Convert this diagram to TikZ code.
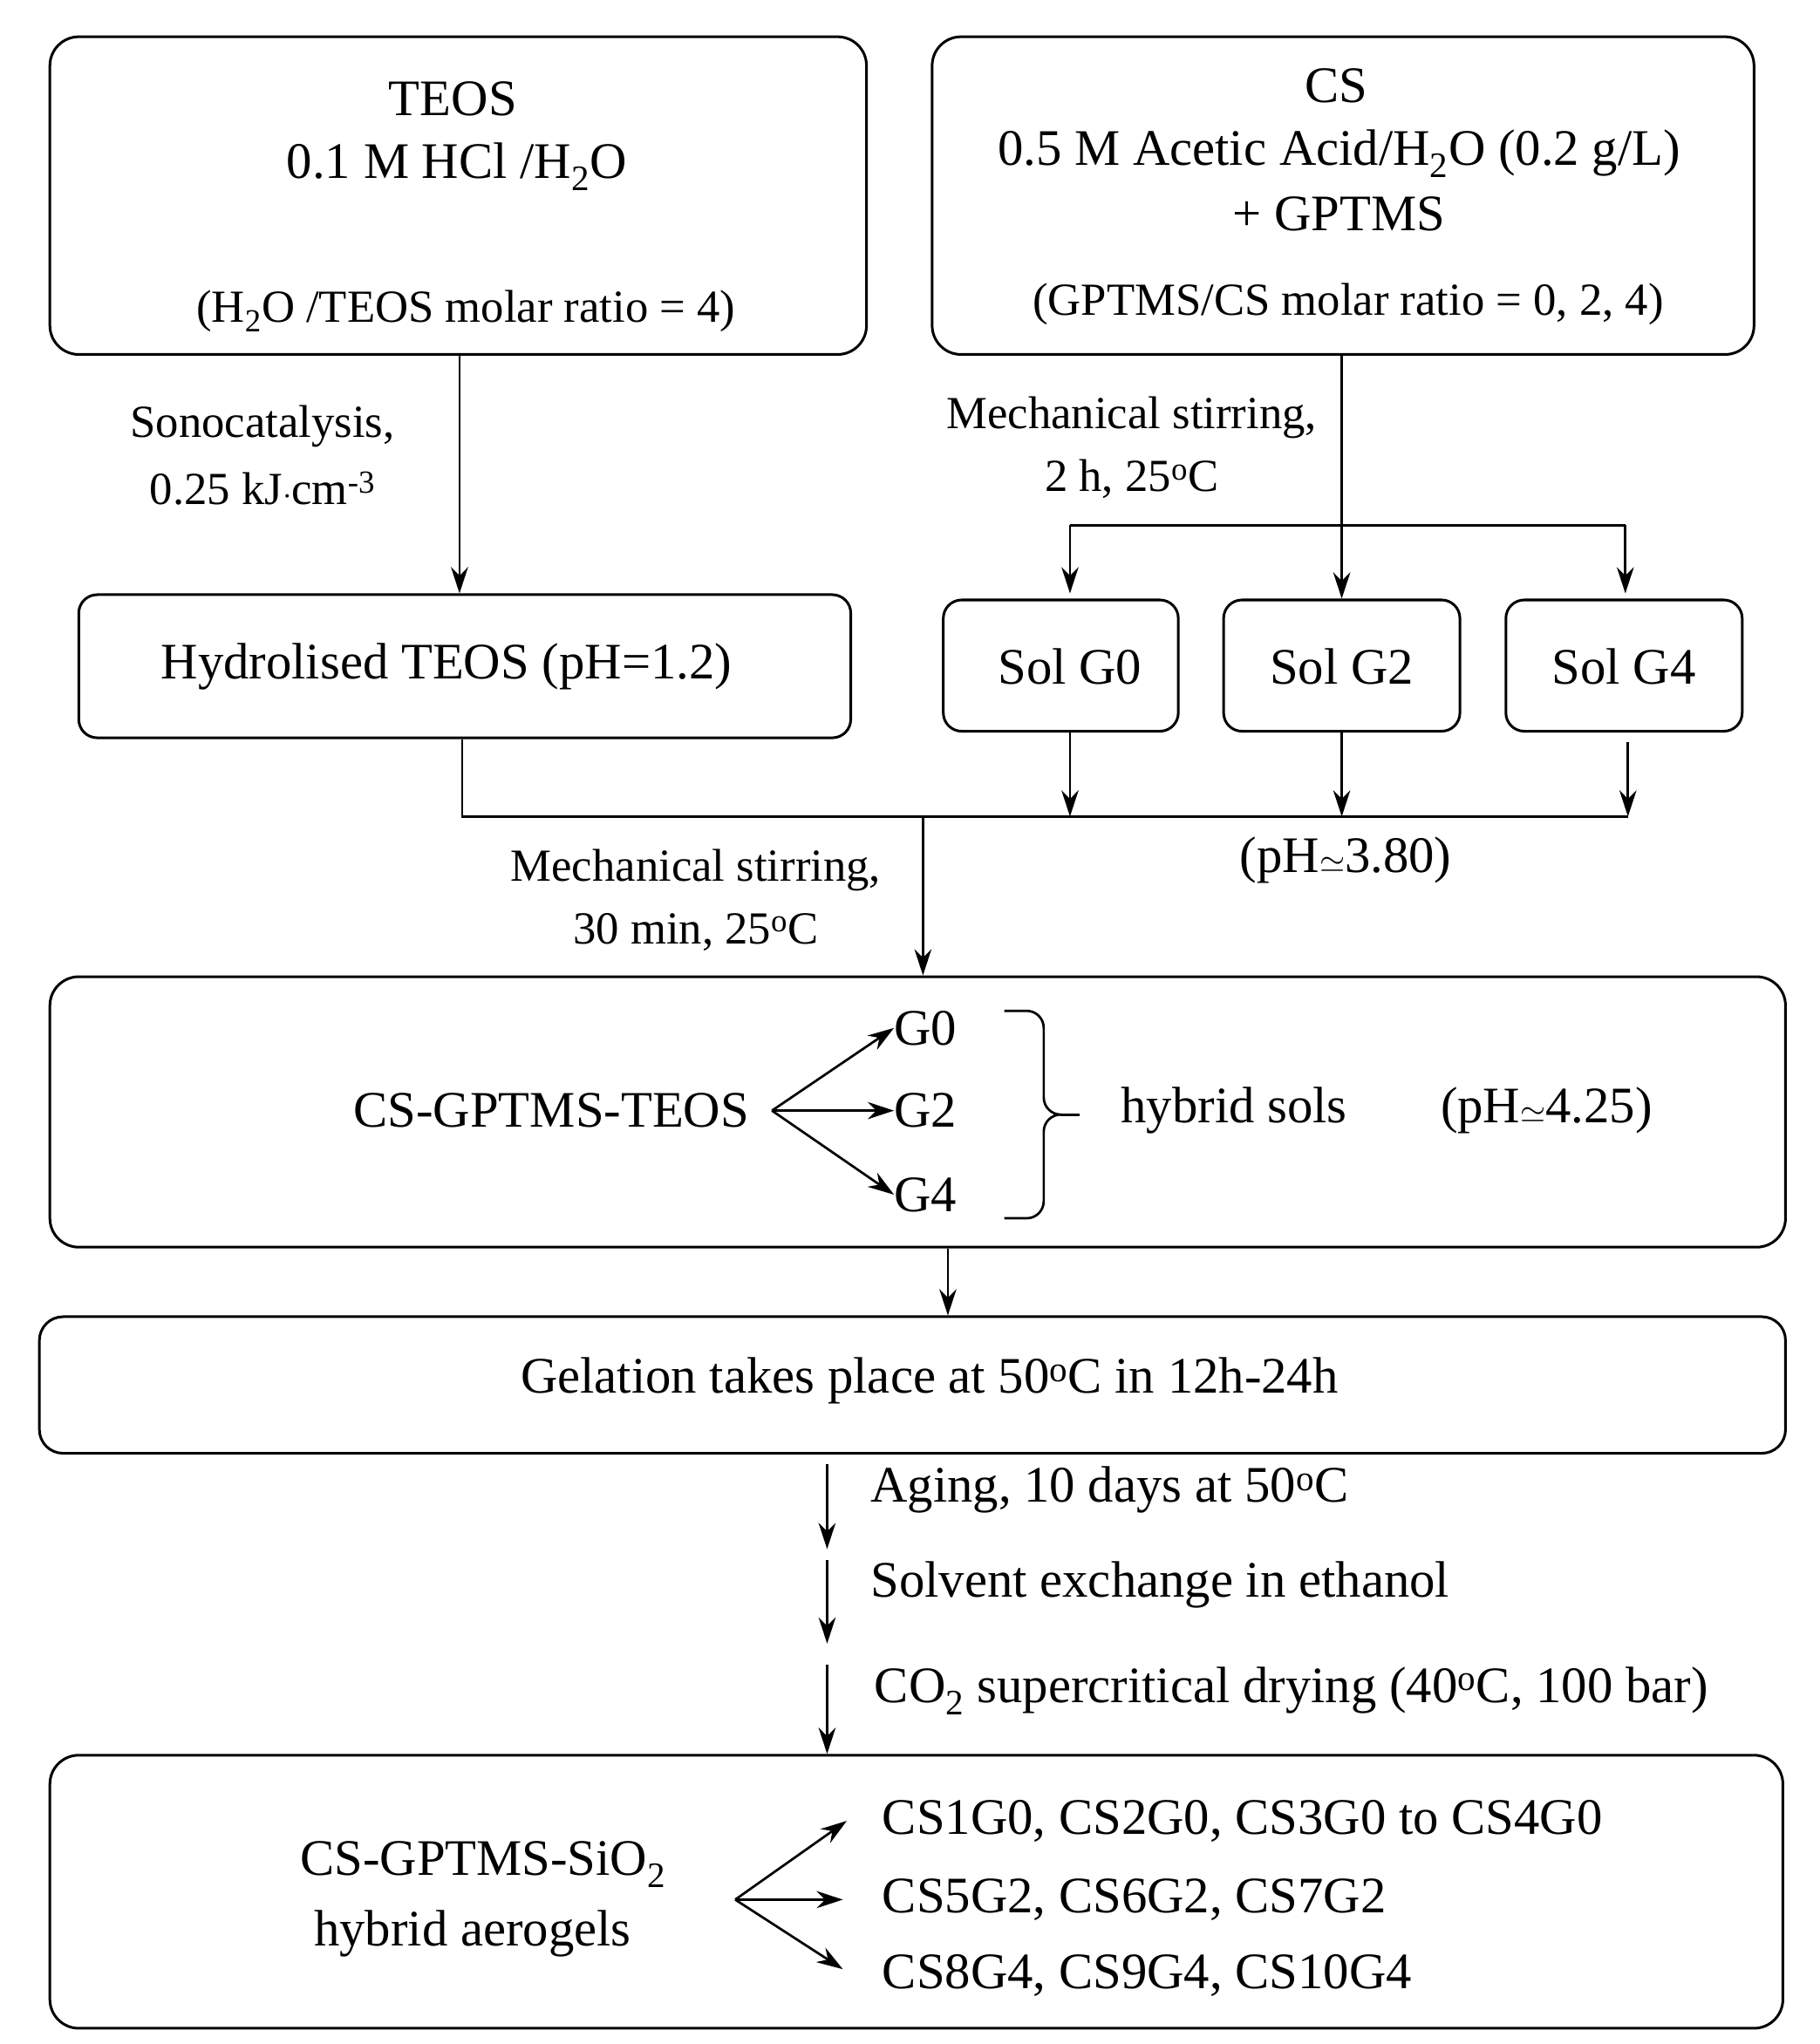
\documentclass[tikz,border=0pt]{standalone}
\usepackage{fontspec}
\setmainfont{Liberation Serif}
\usetikzlibrary{arrows.meta}
\begin{document}
\begin{tikzpicture}[x=1pt,y=-1pt,
  box/.style={draw,line width=2pt,rounded corners=22pt},
  t/.style={font=\fontsize{39}{44}\selectfont,inner sep=0pt},
  ts/.style={font=\fontsize{35}{40}\selectfont,inner sep=0pt},
  ln/.style={line width=1.8pt},
  ar/.style={line width=1.8pt,-{Stealth[length=20pt,width=13pt]}}]
\useasboundingbox (0,0) rectangle (1386,1557);
% top boxes
\draw[box] (38,28) rectangle (660,270);
\node[t] at (345,75) {TEOS};
\node[t] at (348,127) {0.1 M HCl /H\textsubscript{2}O};
\node[ts] at (355,237) {(H\textsubscript{2}O /TEOS molar ratio = 4)};
\draw[box] (710,28) rectangle (1336,270);
\node[t] at (1018,65) {CS};
\node[t] at (1020,117) {0.5 M Acetic Acid/H\textsubscript{2}O (0.2 g/L)};
\node[t] at (1020,163) {+ GPTMS};
\node[ts] at (1027,232) {(GPTMS/CS molar ratio = 0, 2, 4)};
\coordinate (teosb) at (350,270);
\coordinate (csb) at (1022,270);
% hydrolised
\node[box,rounded corners=14pt,minimum width=588pt,minimum height=109pt] (hyd) at (354,507.5) {};
\node[t] at (340,508) {Hydrolised TEOS (pH=1.2)};
\draw[ar] (teosb) -- (hyd.north -| teosb);
\node[ts] at (200,325) {Sonocatalysis,};
\node[ts] at (200,372) {0.25 kJ$\cdot$cm\textsuperscript{-3}};
% sols
\node[box,rounded corners=14pt,minimum width=179pt,minimum height=100pt] (g0) at (808,507) {};
\node[t] at (815,508) {Sol G0};
\node[box,rounded corners=14pt,minimum width=180pt,minimum height=100pt] (g2) at (1022,507) {};
\node[t] at (1022,508) {Sol G2};
\node[box,rounded corners=14pt,minimum width=180pt,minimum height=100pt] (g4) at (1237,507) {};
\node[t] at (1237,508) {Sol G4};
\draw[ar] (csb) -- (g2.north);
\coordinate (bl) at (815,400); \coordinate (br) at (1238,400);
\draw[ln] (bl) -- (br);
\draw[ar] (bl) -- (815,452);
\draw[ar] (br) -- (1238,452);
\node[ts] at (862,318) {Mechanical stirring,};
\node[ts] at (862,365) {2 h, 25$^{\mathrm{o}}$C};
% merge
\coordinate (m0) at (352,622); \coordinate (m1) at (1240,622); \coordinate (mc) at (703,622);
\draw[ln] (hyd.south -| m0) -- (m0) -- (m1);
\draw[ar] (g0.south -| 815,0) -- (815,622);
\draw[ar] (g2.south) -- (1022,622);
\draw[ar] (1240,565) -- (m1);
\node[t] at (1025,655) {(pH$\simeq$3.80)};
\node[ts] at (530,663) {Mechanical stirring,};
\node[ts] at (530,710) {30 min, 25$^{\mathrm{o}}$C};
% hybrid box
\node[box,minimum width=1322pt,minimum height=206pt] (hyb) at (699,847) {};
\draw[ar] (mc) -- (hyb.north -| mc);
\node[t] (cgt) at (420,846) {CS-GPTMS-TEOS};
\node[t] (h0) at (705,783) {G0};
\node[t] (h2) at (705,846) {G2};
\node[t] (h4) at (705,910) {G4};
\coordinate (sp) at (588,846);
\draw[ar] (sp) -- (h0.west);
\draw[ar] (sp) -- (h2.west);
\draw[ar] (sp) -- (h4.west);
\draw[ln] (765,770) -- (782,770) to[out=0,in=90] (795,783) -- (795,836) to[out=270,in=180] (808,849) to[out=180,in=90] (795,862) -- (795,915) to[out=270,in=0] (782,928) -- (765,928);
\draw[ln] (808,849) -- (822,849);
\node[t] at (940,846) {hybrid sols};
\node[t] at (1178,846) {(pH$\simeq$4.25)};
% gelation
\node[box,rounded corners=18pt,minimum width=1330pt,minimum height=104pt] (gel) at (695,1055) {};
\node[t] at (708,1052) {Gelation takes place at 50$^{\mathrm{o}}$C in 12h-24h};
\draw[ar] (hyb.south -| 722,0) -- (gel.north -| 722,0);
% steps
\draw[ar] (630,1115) -- (630,1180);
\node[t,anchor=west] at (663,1135) {Aging, 10 days at 50$^{\mathrm{o}}$C};
\draw[ar] (630,1188) -- (630,1252);
\node[t,anchor=west] at (663,1207) {Solvent exchange in ethanol};
\node[box,minimum width=1320pt,minimum height=208pt] (fin) at (698,1441) {};
\draw[ar] (630,1268) -- (fin.north -| 630,0);
\node[t,anchor=west] at (666,1288) {CO\textsubscript{2} supercritical drying (40$^{\mathrm{o}}$C, 100 bar)};
\node[t] at (368,1420) {CS-GPTMS-SiO\textsubscript{2}};
\node[t] at (360,1473) {hybrid aerogels};
\node[t,anchor=west] (f0) at (672,1387) {CS1G0, CS2G0, CS3G0 to CS4G0};
\node[t,anchor=west] (f2) at (672,1447) {CS5G2, CS6G2, CS7G2};
\node[t,anchor=west] (f4) at (672,1505) {CS8G4, CS9G4, CS10G4};
\coordinate (fs) at (560,1447);
\draw[ar] (fs) -- (645,1387);
\draw[ar] (fs) -- (642,1447);
\draw[ar] (fs) -- (642,1500);
\end{tikzpicture}
\end{document}
